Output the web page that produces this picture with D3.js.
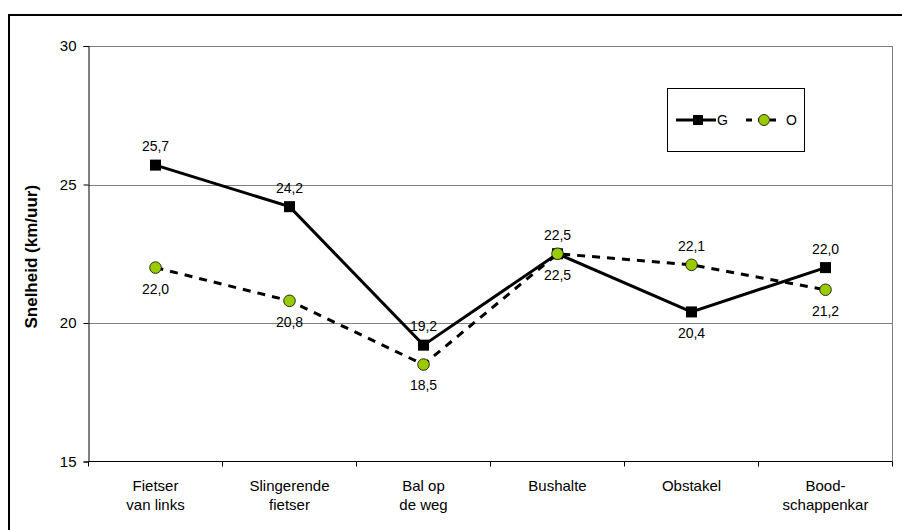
<!DOCTYPE html>
<html><head><meta charset="utf-8">
<script src="https://cdn.jsdelivr.net/npm/d3@7/dist/d3.min.js"></script>
<style>body{margin:0;background:#fff}svg{display:block;font-family:"Liberation Sans",Arial,sans-serif}</style>
</head><body><svg id="c" width="902" height="530"></svg>
<script>
const categories = [["Fietser","van links"],["Slingerende","fietser"],["Bal op","de weg"],["Bushalte"],["Obstakel"],["Bood-","schappenkar"]];
const seriesG = [25.7, 24.2, 19.2, 22.5, 20.4, 22.0];
const seriesO = [22.0, 20.8, 18.5, 22.5, 22.1, 21.2];
const labelPosG = ["above","above","above","above","below","above"];
const labelPosO = ["below","below","below","below","above","below"];
const yTicks = [15, 20, 25, 30];
const yTitle = "Snelheid (km/uur)";

const svg = d3.select("#c");
const L = 88.5, R = 892.5, T = 46, B = 461.5;
const x = d3.scaleBand().domain(d3.range(categories.length)).range([L, R]);
const y = d3.scaleLinear().domain([15, 30]).range([B, T]);
const cx = i => x(i) + x.bandwidth() / 2;
const fmt = v => d3.format(".1f")(v).replace(".", ",");

// outer border
svg.append("rect").attr("x", 9).attr("y", 15).attr("width", 1000).attr("height", 1000)
  .attr("fill", "none").attr("stroke", "#000").attr("stroke-width", 2);

// gridlines
svg.append("g").selectAll("line").data(yTicks.filter(t => t > 15)).join("line")
  .attr("x1", L).attr("x2", R).attr("y1", d => Math.round(y(d)) + 0.5).attr("y2", d => Math.round(y(d)) + 0.5)
  .attr("stroke", "#808080").attr("stroke-width", 1);
// right border
svg.append("line").attr("x1", R).attr("x2", R).attr("y1", T).attr("y2", B).attr("stroke", "#808080");

// y axis
const yAxis = svg.append("g").attr("transform", `translate(${L},0)`)
  .call(d3.axisLeft(y).tickValues(yTicks).tickSize(5).tickPadding(7).tickFormat(d => d));
yAxis.select(".domain").attr("stroke", "#000");
yAxis.selectAll("line").attr("stroke", "#000");
yAxis.selectAll("text").attr("font-size", 15).attr("fill", "#000").attr("font-family", "Liberation Sans, Arial");

// x axis
const xAxis = svg.append("g").attr("transform", `translate(0,${B})`);
xAxis.append("line").attr("x1", L).attr("x2", R).attr("y1", 0).attr("y2", 0).attr("stroke", "#000");
xAxis.selectAll("line.t").data(d3.range(categories.length + 1)).join("line").attr("class", "t")
  .attr("x1", i => i < categories.length ? x(i) : R).attr("x2", i => i < categories.length ? x(i) : R)
  .attr("y1", 0).attr("y2", 5).attr("stroke", "#000");
xAxis.selectAll("text").data(categories).join("text")
  .attr("x", (d, i) => cx(i)).attr("y", 0).attr("text-anchor", "middle").attr("font-size", 15)
  .each(function(d) {
    const t = d3.select(this);
    d.forEach((line, k) => t.append("tspan").attr("x", t.attr("x")).attr("y", 29 + k * 19).text(line));
  });

// y title
svg.append("text").attr("transform", `translate(37,${(T + B) / 2 + 3}) rotate(-90)`)
  .attr("text-anchor", "middle").attr("font-size", 17).attr("font-weight", "bold").text(yTitle);

// lines
const line = d3.line().x((d, i) => cx(i)).y(d => y(d));
svg.append("path").datum(seriesO).attr("d", line).attr("fill", "none").attr("stroke", "#000")
  .attr("stroke-width", 3).attr("stroke-dasharray", "8,7");
svg.append("path").datum(seriesG).attr("d", line).attr("fill", "none").attr("stroke", "#000")
  .attr("stroke-width", 3);

// markers
svg.append("g").selectAll("rect").data(seriesG).join("rect")
  .attr("x", (d, i) => cx(i) - 5.5).attr("y", d => y(d) - 5.5).attr("width", 11).attr("height", 11)
  .attr("fill", "#000");
svg.append("g").selectAll("circle").data(seriesO).join("circle")
  .attr("cx", (d, i) => cx(i)).attr("cy", d => y(d)).attr("r", 5.8)
  .attr("fill", "#99CC00").attr("stroke", "#000").attr("stroke-width", 0.8);

// data labels
function labels(data, pos) {
  svg.append("g").selectAll("text").data(data).join("text")
    .attr("x", (d, i) => cx(i)).attr("y", (d, i) => y(d) + (pos[i] === "above" ? -19 : 21))
    .attr("dy", "0.35em").attr("text-anchor", "middle").attr("font-size", 14).text(d => fmt(d));
}
labels(seriesG, labelPosG);
labels(seriesO, labelPosO);

// legend
const lg = svg.append("g");
lg.append("rect").attr("x", 667.5).attr("y", 88.5).attr("width", 137).attr("height", 63)
  .attr("fill", "#fff").attr("stroke", "#000");
const ly = 120;
lg.append("line").attr("x1", 676).attr("x2", 716).attr("y1", ly).attr("y2", ly).attr("stroke", "#000").attr("stroke-width", 3);
lg.append("rect").attr("x", 693).attr("y", ly - 5).attr("width", 10).attr("height", 10).attr("fill", "#000");
lg.append("text").attr("x", 717).attr("y", ly).attr("dy", "0.35em").attr("font-size", 14).text("G");
lg.append("line").attr("x1", 746).attr("x2", 776).attr("y1", ly).attr("y2", ly).attr("stroke", "#000")
  .attr("stroke-width", 3).attr("stroke-dasharray", "6,6");
lg.append("circle").attr("cx", 764).attr("cy", ly).attr("r", 5.5).attr("fill", "#99CC00").attr("stroke", "#000").attr("stroke-width", 0.8);
lg.append("text").attr("x", 786).attr("y", ly).attr("dy", "0.35em").attr("font-size", 14).text("O");
</script></body></html>
